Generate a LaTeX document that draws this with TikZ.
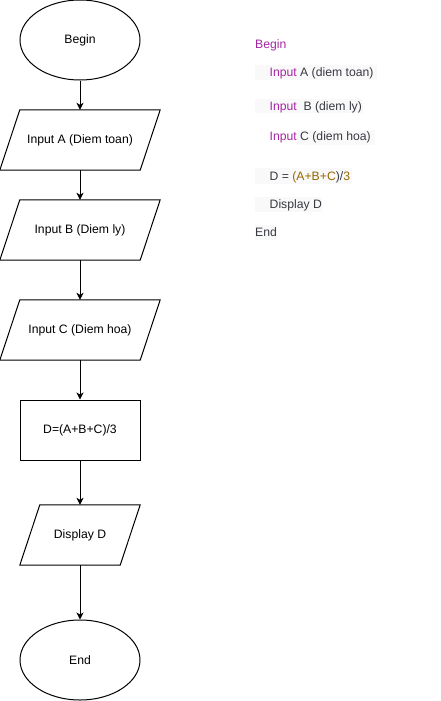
\documentclass[tikz,border=0pt]{standalone}
\usepackage{fontspec}
\setmainfont{Liberation Sans}
\usetikzlibrary{shapes.geometric,arrows.meta}
\definecolor{kw}{HTML}{A626A4}
\definecolor{num}{HTML}{986801}
\definecolor{code}{HTML}{383A42}
\definecolor{codebg}{HTML}{F9F9F9}
\begin{document}
\begin{tikzpicture}[x=1pt,y=-1pt,
  font=\fontsize{12.2}{14}\selectfont,
  term/.style={ellipse, draw, line width=1pt, minimum width=120pt, minimum height=80pt, inner sep=0pt},
  iobox/.style={rectangle, minimum width=#1, minimum height=60pt, inner sep=0pt},
  proc/.style={rectangle, draw, line width=1pt, minimum width=120pt, minimum height=60pt, inner sep=0pt},
  paraline/.style={line width=1pt, line join=miter},
  flow/.style={line width=1pt, -{Stealth[length=7pt,width=7pt,inset=2pt]}},
  codeline/.style={anchor=base west, inner sep=0pt, text=code}]
\useasboundingbox (0,0) rectangle (441,701);

% flowchart
\node[term] (begin) at (80,40) {Begin};
\node[iobox=140pt] (inA) at (80,140) {Input A (Diem toan)};
\node[iobox=140pt] (inB) at (80,230) {Input B (Diem ly)};
\node[iobox=140pt] (inC) at (80,330) {Input C (Diem hoa)};
\node[proc] (calc) at (80,430) {D=(A+B+C)/3};
\node[iobox=100pt] (disp) at (80,535) {Display D};
\node[term] (end) at (80,660) {End};

\foreach \n/\s in {inA/10pt,inB/10pt,inC/10pt,disp/10pt}{
  \draw[paraline] ([xshift=\s]\n.north west) -- ([xshift=\s]\n.north east)
    -- ([xshift=-\s]\n.south east) -- ([xshift=-\s]\n.south west) -- cycle;
}

\draw[flow] (begin.south) -- (inA.north);
\draw[flow] (inA.south) -- (inB.north);
\draw[flow] (inB.south) -- (inC.north);
\draw[flow] (inC.south) -- (calc.north);
\draw[flow] (calc.south) -- (disp.north);
\draw[flow] (disp.south) -- (end.north);

% pseudo code backgrounds
\fill[codebg] (255,65) rectangle (377,79.5);
\fill[codebg] (255,98.5) rectangle (363,112.5);
\fill[codebg] (297,129.5) rectangle (375,144.5);
\fill[codebg] (255,168) rectangle (352,184);
\fill[codebg] (255,197) rectangle (322,211.5);
\fill[codebg] (255,225) rectangle (277,240);

% pseudo code
\node[codeline, text=kw] (pcbegin) at (255,48.3) {Begin};
\node[codeline] (pcA) at (269.5,76) {\textcolor{kw}{Input} A (diem toan)};
\node[codeline] (pcB) at (269.5,110) {\textcolor{kw}{Input}\ \ B (diem ly)};
\node[codeline] (pcC) at (269.5,140) {\textcolor{kw}{Input} C (diem hoa)};
\node[codeline] (pcD) at (269.5,180.2) {D = \textcolor{num}{(A+B+C}{)/}\textcolor{num}{3}};
\node[codeline] (pcdisp) at (269.5,208.5) {Display D};
\node[codeline] (pcend) at (255,236.5) {End};
\end{tikzpicture}
\end{document}
